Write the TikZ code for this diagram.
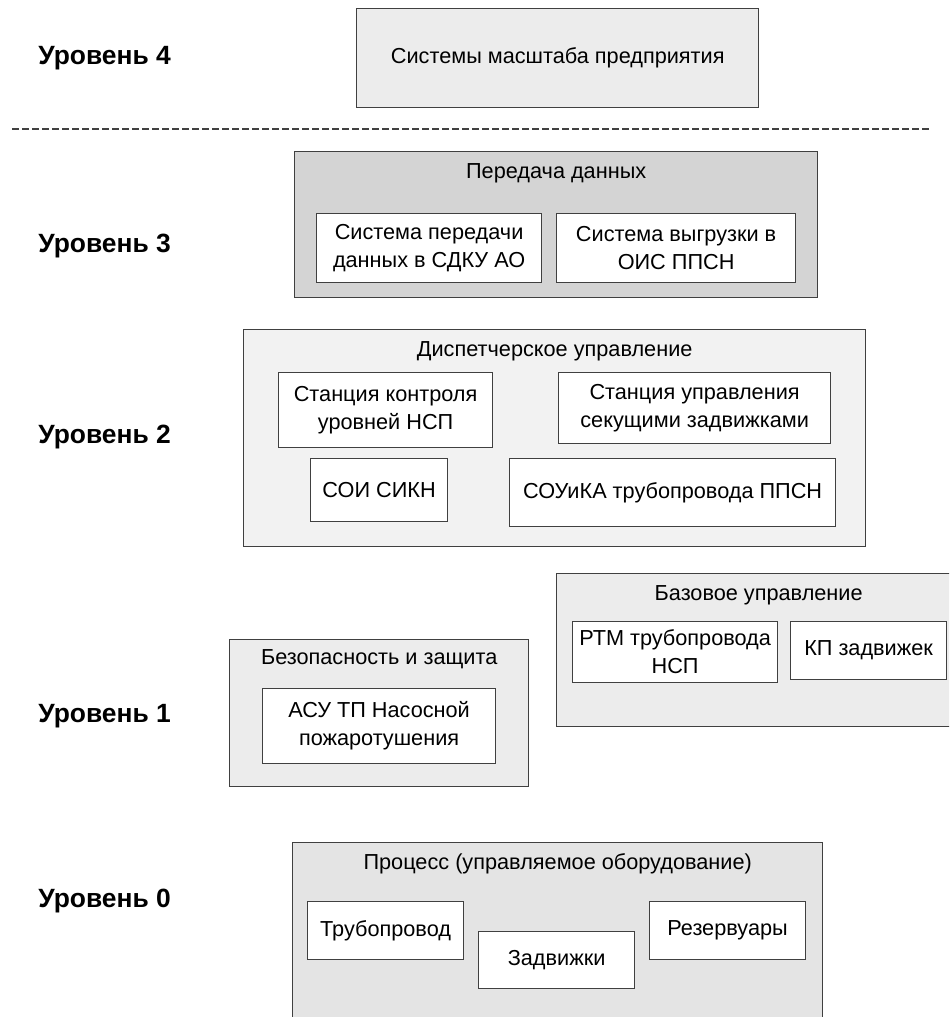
\documentclass[tikz,border=0pt]{standalone}
\usepackage{fontspec}
\setmainfont{Liberation Sans}
\usetikzlibrary{positioning}

\definecolor{frame}{RGB}{64,64,64}
\definecolor{topgray}{RGB}{236,236,236}
\definecolor{netgray}{RGB}{212,212,212}
\definecolor{dispgray}{RGB}{242,242,242}
\definecolor{ctrlgray}{RGB}{236,236,236}
\definecolor{procgray}{RGB}{228,228,228}
\newcommand{\boxfont}{\fontsize{10.85}{14}\selectfont}
\newcommand{\levelfont}{\fontsize{13.2}{15}\selectfont\bfseries}

\begin{document}
\begin{tikzpicture}[x=0.5pt,y=-0.5pt,
    outer/.style={draw=frame,line width=0.7pt,inner sep=0pt,anchor=north west},
    unit/.style={draw=frame,fill=white,line width=0.6pt,inner sep=0pt,
                 anchor=north west,align=center,font=\boxfont},
    caption/.style={font=\boxfont,inner sep=0pt,text height=8pt,text depth=2.5pt},
    level/.style={font=\levelfont,anchor=west,inner sep=0pt}]
    \useasboundingbox (0,0) rectangle (949,1017);
    \clip (0,0) rectangle (949,1017);

    % level 4
    \node[outer,fill=topgray,font=\boxfont,minimum width=201pt,minimum height=49.5pt]
        (enterprise) at (356,8) {Системы масштаба предприятия};
    \coordinate (sepleft) at (12,129);
    \coordinate (sepright) at (930,129);
    \draw[frame,line width=0.6pt,dash pattern=on 3.3pt off 1.7pt] (sepleft) -- (sepright);

    % level 3
    \node[outer,fill=netgray,minimum width=261.5pt,minimum height=73pt] (transfer) at (294,151) {};
    \node[caption,below=5.4pt of transfer.north] (transfertitle) {Передача данных};
    \node[unit,minimum width=112.5pt,minimum height=34.5pt] (sdku) at (316,213)
        {Система передачи\\данных в СДКУ АО};
    \node[unit,minimum width=119.5pt,minimum height=34.5pt] (ois) at (556,213)
        {Система выгрузки в\\ОИС ППСН};

    % level 2
    \node[outer,fill=dispgray,minimum width=311pt,minimum height=108.5pt] (dispatch) at (243,329) {};
    \node[caption,below=5.4pt of dispatch.north] (dispatchtitle) {Диспетчерское управление};
    \node[unit,minimum width=107pt,minimum height=37.5pt] (levels) at (278,372)
        {Станция контроля\\уровней НСП};
    \node[unit,minimum width=136pt,minimum height=35.5pt] (valvestation) at (558,372)
        {Станция управления\\секущими задвижками};
    \node[unit,minimum width=163pt,minimum height=34pt] (souika) at (509,458)
        {СОУиКА трубопровода ППСН};
    \node[unit,minimum width=68.5pt,minimum height=31.5pt] (soi) at (310,458) {СОИ СИКН};

    % level 1
    \node[outer,fill=ctrlgray,minimum width=149.5pt,minimum height=73.5pt] (safety) at (229,639) {};
    \node[caption,below=4.4pt of safety.north] (safetytitle) {Безопасность и защита};
    \node[unit,minimum width=116.5pt,minimum height=37.5pt] (asutp) at (262,688)
        {АСУ ТП Насосной\\пожаротушения};
    \node[outer,fill=ctrlgray,minimum width=202pt,minimum height=76.5pt] (basic) at (556,573) {};
    \node[caption,below=5.4pt of basic.north] (basictitle) {Базовое управление};
    \node[unit,minimum width=102.5pt,minimum height=30.5pt] (rtm) at (572,621)
        {РТМ трубопровода\\НСП};
    \node[unit,minimum width=78pt,minimum height=29pt] (kp) at (790,621) {КП задвижек};

    % level 0
    \node[outer,fill=procgray,minimum width=265pt,minimum height=100pt] (process) at (292,842) {};
    \node[caption,below=5.4pt of process.north] (processtitle) {Процесс (управляемое оборудование)};
    \node[unit,minimum width=78pt,minimum height=29pt] (pipe) at (307,901) {Трубопровод};
    \node[unit,minimum width=78pt,minimum height=28.5pt] (valves) at (478,931) {Задвижки};
    \node[unit,minimum width=78pt,minimum height=29pt] (tanks) at (649,901) {Резервуары};

    % level names
    \node[level] (lvlfour) at (38,58) {Уровень 4};
    \node[level] (lvlthree) at (38,246) {Уровень 3};
    \node[level] (lvltwo) at (38,437) {Уровень 2};
    \node[level] (lvlone) at (38,716) {Уровень 1};
    \node[level] (lvlzero) at (38,901) {Уровень 0};
\end{tikzpicture}
\end{document}
